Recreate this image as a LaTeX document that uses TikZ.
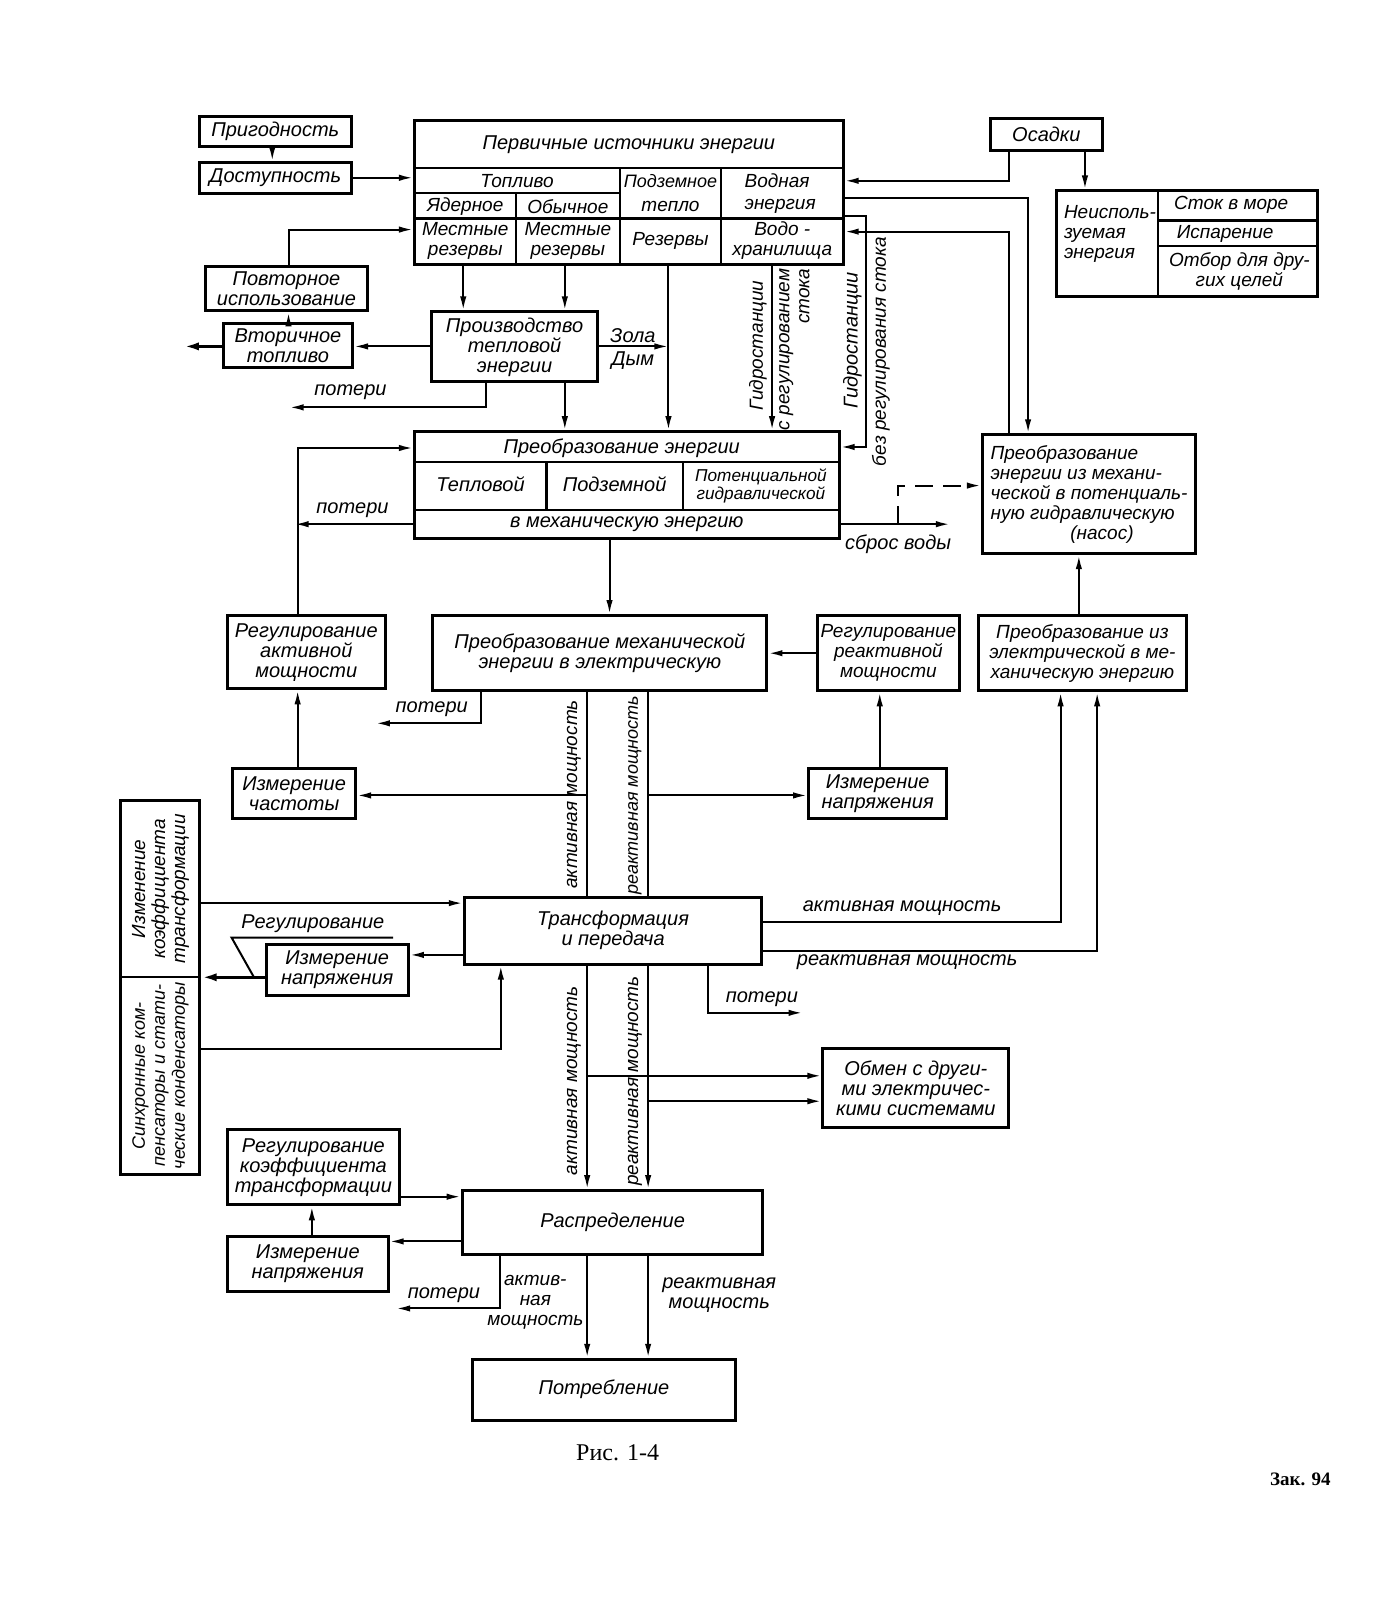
\documentclass[tikz,border=0pt]{standalone}
\usepackage{fontspec}
\setmainfont{Liberation Sans}
\newfontfamily\capfont{Liberation Serif}
\usetikzlibrary{arrows.meta,calc}
\newcommand\dfont{\fontsize{10}{10}\selectfont\itshape}
\newcommand\tfont{\fontsize{9.5}{10}\selectfont\itshape}
\newcommand\vfont{\fontsize{9}{10}\selectfont\itshape}
\newcommand\sfont{\fontsize{8.6}{9}\selectfont\itshape}
\newcommand\mybox[7][]{%
  \pgfmathsetmacro\myw{abs(#5-#3)*0.508}%
  \pgfmathsetmacro\myh{abs(#6-#4)*0.508}%
  \node[boxst, minimum width=\myw pt, minimum height=\myh pt, #1] (#2) at ({(#3+#5)/2},{(#4+#6)/2}) {#7};%
}
\tikzset{
  every node/.style={font=\dfont},
  boxst/.style={draw, line width=1.5pt, inner sep=0pt, align=center},
  grid/.style={line width=1.1pt},
  conn/.style={line width=1pt},
  arr/.style={conn, -{Latex[length=7pt,width=3.2pt]}},
  thickarr/.style={line width=1.6pt, -{Latex[length=8pt,width=4pt]}},
  lbl/.style={inner sep=1pt, align=center},
  cell/.style={inner sep=1pt, align=center, font=\tfont},
  vlbl/.style={inner sep=1pt, align=center, rotate=90},
}
\begin{document}
\begin{tikzpicture}[x=0.508pt,y=-0.508pt]
\fill[white] (0,0) rectangle (1361,1575);
\useasboundingbox (0,0) rectangle (1361,1575);

% ---------- boxes ----------
\mybox{prig}{196}{115}{346}{144}{Пригодность}
\mybox{dost}{196}{160}{346}{190}{Доступность}
\mybox{prim}{408}{119}{830}{260}{}
\mybox{osad}{975}{117}{1085}{148}{Осадки}
\mybox{neisp}{1040}{188}{1297}{292}{}
\mybox{povt}{202}{262}{362}{306}{Повторное\\использование}
\mybox{vtor}{220}{318}{347}{362}{Вторичное\\топливо}
\mybox{proizv}{425}{307}{588}{376}{Производство\\тепловой\\энергии}
\mybox{preob}{408}{425}{826}{530}{}
\mybox[align=left,font=\tfont]{nasos}{967}{428}{1177}{545}{Преобразование\\энергии из механи-\\ческой в потенциаль-\\ную гидравлическую\\\hspace*{4.2em}(насос)}
\mybox{mech}{426}{606}{755}{680}{Преобразование механической\\энергии в электрическую}
\mybox{regakt}{224}{606}{379}{678}{Регулирование\\активной\\мощности}
\mybox[font=\tfont]{regreak}{805}{606}{944}{680}{Регулирование\\реактивной\\мощности}
\mybox[font=\tfont]{elmech}{963}{606}{1168}{680}{Преобразование из\\электрической в ме-\\ханическую энергию}
\mybox{izmch}{229}{756}{350}{806}{Измерение\\частоты}
\mybox{izmnapa}{796}{756}{932}{806}{Измерение\\напряжения}
\mybox{tall}{119}{788}{196}{1156}{}
\mybox{trans}{457}{883}{750}{949}{Трансформация\\и передача}
\mybox{izmnapb}{262}{930}{402}{980}{Измерение\\напряжения}
\mybox{obmen}{810}{1032}{993}{1110}{Обмен с други-\\ми электричес-\\кими системами}
\mybox{regkoef}{224}{1112}{393}{1186}{Регулирование\\коэффициента\\трансформации}
\mybox{izmnapc}{224}{1217}{382}{1271}{Измерение\\напряжения}
\mybox{raspr}{455}{1172}{751}{1235}{Распределение}
\mybox{potr}{465}{1338}{724}{1398}{Потребление}

% ---------- table: primary sources ----------
\draw[grid] (408,165) -- (830,165);
\draw[grid] (408,190) -- (610,190);
\draw[grid] (408,215) -- (830,215);
\draw[grid] (508,190) -- (508,260);
\draw[grid] (610,165) -- (610,260);
\draw[grid] (710,165) -- (710,260);
\node[lbl] (tprim) at (619,142) {Первичные источники энергии};
\node[cell] (ttopl) at (509,178) {Топливо};
\node[cell] (tyad) at (458,203) {Ядерное};
\node[cell] (tobych) at (559,203) {Обычное};
\node[cell, font=\vfont] (tpodz) at (660,178) {Подземное};
\node[cell] (ttepl) at (660,203) {тепло};
\node[cell] (tvodn) at (765,178) {Водная};
\node[cell] (tenerg) at (768,203) {энергия};
\node[cell] (tmr1) at (458,237) {Местные\\резервы};
\node[cell] (tmr2) at (559,237) {Местные\\резервы};
\node[cell] (trez) at (660,237) {Резервы};
\node[cell] (tvodo) at (770,237) {Водо -\\хранилища};

% ---------- table: energy conversion ----------
\draw[grid] (408,455) -- (826,455);
\draw[grid] (408,502) -- (826,502);
\draw[grid] (538,455) -- (538,502);
\draw[grid] (672,455) -- (672,502);
\node[lbl] (tpreob) at (612,441) {Преобразование энергии};
\node[lbl] (tteplov) at (473,477) {Тепловой};
\node[lbl] (tpodzem) at (605,477) {Подземной};
\node[lbl, font=\sfont] (tpot) at (749,478) {Потенциальной\\гидравлической};
\node[lbl] (tvmech) at (617,516) {в механическую энергию};

% ---------- table: unused energy ----------
\draw[grid] (1140,188) -- (1140,292);
\draw[grid] (1140,217) -- (1297,217);
\draw[grid] (1140,242) -- (1297,242);
\node[cell, anchor=west, align=left] (tneisp) at (1045,230) {Неисполь-\\зуемая\\энергия};
\node[cell] (tstok) at (1212,202) {Сток в море};
\node[cell] (tisp) at (1206,230) {Испарение};
\node[cell] (totbor) at (1220,267) {Отбор для дру-\\гих целей};

% ---------- tall left box ----------
\draw[grid] (119,962) -- (196,962);
\node[vlbl, font=\tfont] (tizm) at (158,875) {Изменение\\коэффициента\\трансформации};
\node[vlbl, font=\vfont] (tsinh) at (158,1059) {Синхронные ком-\\пенсаторы и стати-\\ческие конденсаторы};

% ---------- free ends ----------
\coordinate (e1) at (180,341);
\coordinate (e2) at (285,401);
\coordinate (e3) at (290,516);
\coordinate (e4) at (935,516);
\coordinate (e5) at (370,712);
\coordinate (e6) at (790,997);
\coordinate (e7) at (390,1288);
\coordinate (j1) at (884,516);
\coordinate (zd) at (658,341);

% ---------- connectors ----------
\draw[arr] (prig.south -| 268,0) -- (dost.north -| 268,0);
\draw[arr] (dost.east) -- (prim.west |- dost.east);
\draw[arr] (povt.north -| 284,0) |- (prim.west |- 0,226);
\draw[arr] (vtor.north -| 284,0) -- (povt.south -| 284,0);
\draw[thickarr] (vtor.west |- 0,341) -- (e1);
\draw[arr] (proizv.west |- 0,341) -- (vtor.east |- 0,341);
\draw[arr] (prim.south -| 456,0) -- (proizv.north -| 456,0);
\draw[arr] (prim.south -| 556,0) -- (proizv.north -| 556,0);
\draw[arr] (proizv.east |- 0,341) -- (zd);
\node[lbl] (tzola) at (623,330) {Зола};
\node[lbl] (tdym) at (623,355) {Дым};
\draw[arr] (prim.south -| 658,0) -- (preob.north -| 658,0);
\draw[arr] (proizv.south -| 556,0) -- (preob.north -| 556,0);
\draw[arr] (proizv.south -| 478,0) |- (e2);
\node[lbl] (tpot1) at (345,386) {потери};

\draw[arr] (prim.south -| 760,0) -- (preob.north -| 760,0);
\node[vlbl, font=\tfont] (tgidro1) at (746,340) {Гидростанции};
\node[vlbl, align=right, font=\tfont] (tsreg) at (782,344) {с регулированием\\стока};
\draw[arr] (prim.east |- 0,213) -- (852,213) -- (852,440) -- (preob.east |- 0,440);
\node[vlbl] (tgidro2) at (839,335) {Гидростанции};
\node[vlbl, font=\tfont] (tbezreg) at (867,346) {без регулирования стока};

\draw[arr] (osad.south -| 993,0) |- (prim.east |- 0,178);
\draw[arr] (osad.south -| 1068,0) -- (neisp.north -| 1068,0);
\draw[arr] (prim.east |- 0,195) -| (nasos.north -| 1012,0);
\draw[arr] (nasos.north -| 993,0) |- (prim.east |- 0,228);

\draw[arr] (regakt.north -| 293,0) |- (preob.west |- 0,441);
\draw[arr] (preob.west |- 0,516) -- (e3);
\node[lbl] (tpot2) at (347,502) {потери};
\draw[arr] (preob.east |- 0,516) -- (e4);
\node[lbl] (tsbros) at (884,536) {сброс воды};
\draw[arr, dashed, dash pattern=on 9pt off 5pt] (j1) -- (884,478) -- (nasos.west |- 0,478);

\draw[arr] (preob.south -| 600,0) -- (mech.north -| 600,0);
\draw[arr] (regreak.west |- 0,643) -- (mech.east |- 0,643);
\draw[arr] (mech.south -| 473,0) |- (e5);
\node[lbl] (tpot3) at (425,698) {потери};
\draw[conn] (mech.south -| 578,0) -- (trans.north -| 578,0);
\draw[conn] (mech.south -| 638,0) -- (trans.north -| 638,0);
\node[vlbl, font=\tfont] (takt1) at (565,782) {активная мощность};
\node[vlbl, font=\vfont] (treak1) at (625,783) {реактивная мощность};
\draw[arr] (578,783) -- (izmch.east |- 0,783);
\draw[arr] (638,783) -- (izmnapa.west |- 0,783);
\draw[arr] (izmch.north -| 293,0) -- (regakt.south -| 293,0);
\draw[arr] (izmnapa.north -| 866,0) -- (regreak.south -| 866,0);

\draw[arr] (trans.east |- 0,908) -| (elmech.south -| 1044,0);
\draw[arr] (trans.east |- 0,936) -| (elmech.south -| 1080,0);
\node[lbl] (takt2) at (888,894) {активная мощность};
\node[lbl] (treak2) at (893,947) {реактивная мощность};
\draw[arr] (elmech.north -| 1062,0) -- (nasos.south -| 1062,0);
\draw[arr] (trans.south -| 697,0) |- (e6);
\node[lbl] (tpot4) at (750,984) {потери};

\draw[arr] (tall.east |- 0,889) -- (trans.west |- 0,889);
\draw[arr] (trans.west |- 0,940) -- (izmnapb.east |- 0,940);
\draw[thickarr] (izmnapb.west |- 0,962) -- (tall.east |- 0,962);
\node[lbl] (treg) at (308,909) {Регулирование};
\draw[conn] (387,923) -- (228,923) -- (250,962);
\draw[arr] (tall.east |- 0,1033) -| (trans.south -| 493,0);

\draw[arr] (trans.south -| 578,0) -- (raspr.north -| 578,0);
\draw[arr] (trans.south -| 638,0) -- (raspr.north -| 638,0);
\node[vlbl, font=\tfont] (takt3) at (565,1064) {активная мощность};
\node[vlbl, font=\tfont] (treak3) at (625,1064) {реактивная мощность};
\draw[arr] (578,1059) -- (obmen.west |- 0,1059);
\draw[arr] (638,1084) -- (obmen.west |- 0,1084);

\draw[arr] (regkoef.east |- 0,1178) -- (raspr.west |- 0,1178);
\draw[arr] (raspr.west |- 0,1222) -- (izmnapc.east |- 0,1222);
\draw[arr] (izmnapc.north -| 307,0) -- (regkoef.south -| 307,0);
\draw[arr] (raspr.south -| 492,0) |- (e7);
\node[lbl] (tpot5) at (437,1275) {потери};
\draw[arr] (raspr.south -| 578,0) -- (potr.north -| 578,0);
\draw[arr] (raspr.south -| 638,0) -- (potr.north -| 638,0);
\node[lbl, font=\tfont] (takt4) at (527,1282) {актив-\\ная\\мощность};
\node[lbl] (treak4) at (708,1275) {реактивная\\мощность};

% ---------- captions ----------
\node[font=\capfont\fontsize{12}{12}\selectfont] (cap) at (608,1430) {Рис. 1-4};
\node[font=\capfont\bfseries\fontsize{9.5}{10}\selectfont] (zak) at (1280,1456) {Зак. 94};
\end{tikzpicture}
\end{document}
